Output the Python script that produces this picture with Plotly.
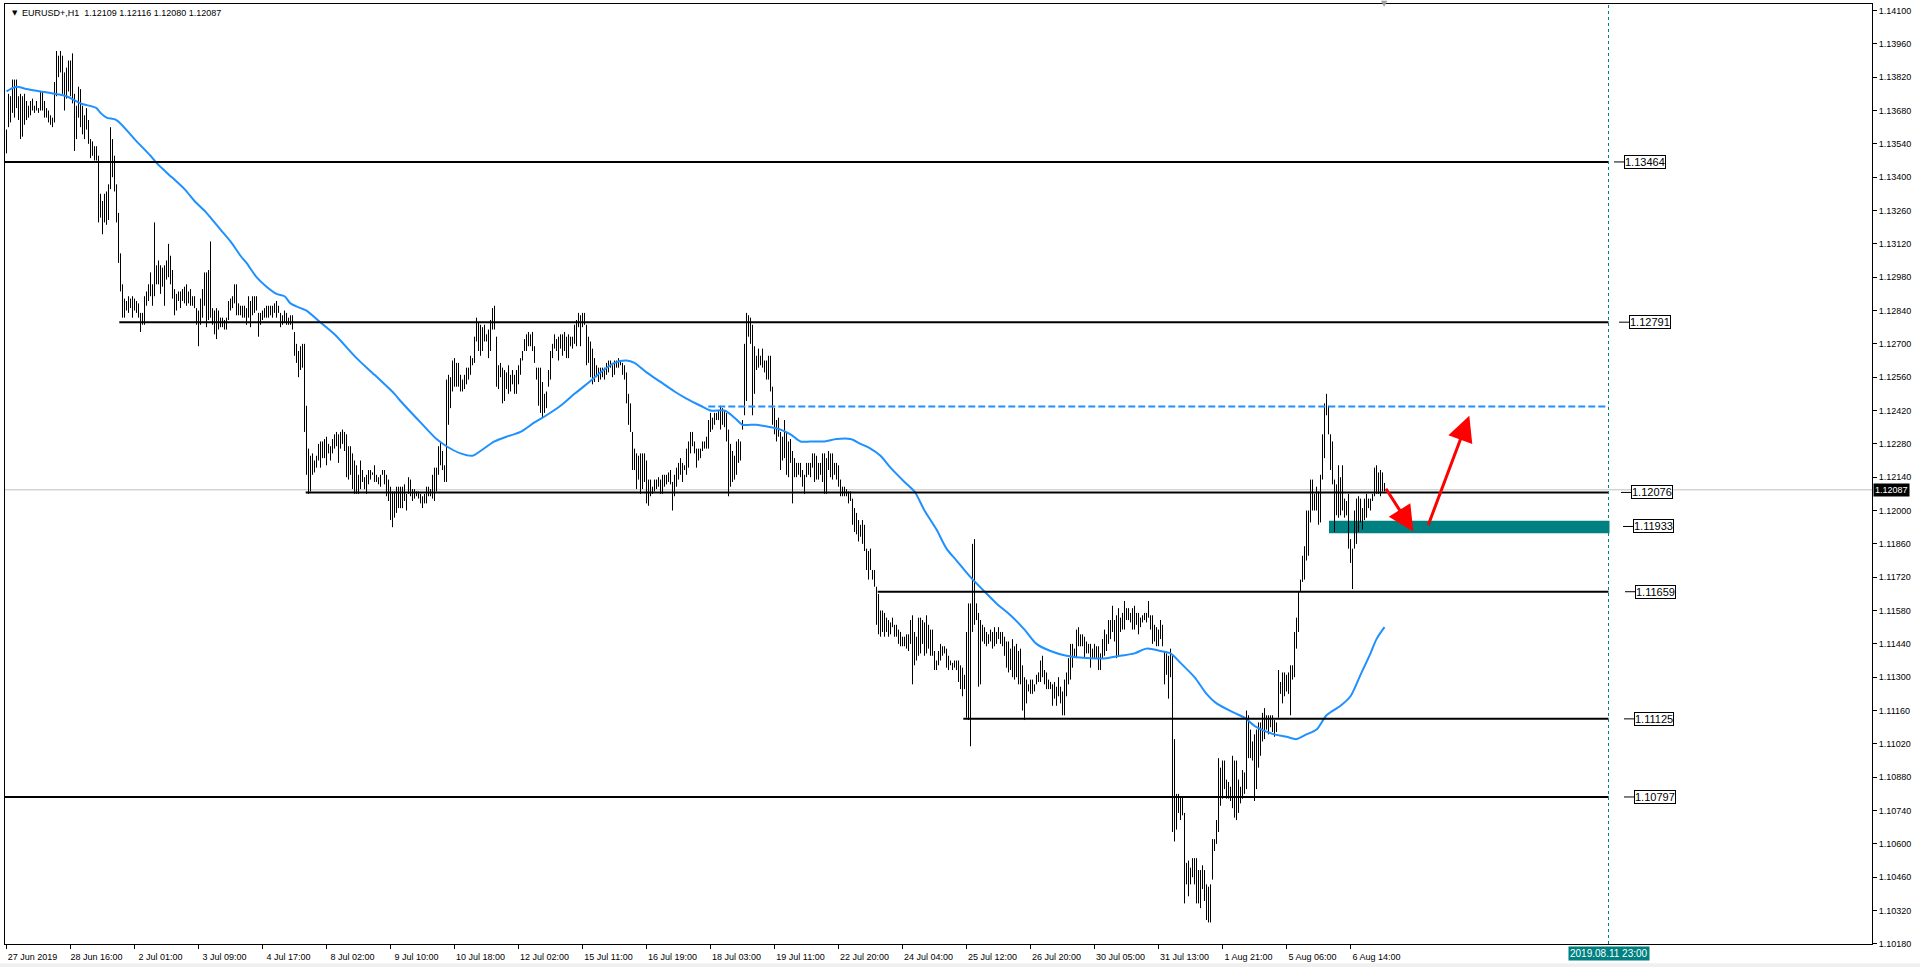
import plotly.graph_objects as go

# ------------------------------------------------------------------ data
# EURUSD+ H1 bars (high / low), bar index 0 = 27 Jun 2019 08:00
bar_high = [
    1.1360, 1.1375, 1.1374, 1.1381, 1.1381, 1.1381, 1.1374, 1.1375, 1.1374, 1.1375,
    1.1372, 1.1370, 1.1372, 1.1373, 1.1370, 1.1372, 1.1369, 1.1376, 1.1376, 1.1372,
    1.1369, 1.1368, 1.1366, 1.1365, 1.1380, 1.1393, 1.1391, 1.1393, 1.1391, 1.1384,
    1.1386, 1.1389, 1.1389, 1.1392, 1.1375, 1.1370, 1.1378, 1.1377, 1.1370, 1.1366,
    1.1369, 1.1364, 1.1356, 1.1355, 1.1353, 1.1353, 1.1349, 1.1333, 1.1330, 1.1333,
    1.1334, 1.1337, 1.1361, 1.1356, 1.1349, 1.1337, 1.1325, 1.1308, 1.1295, 1.1289,
    1.1288, 1.1290, 1.1289, 1.1290, 1.1289, 1.1288, 1.1287, 1.1283, 1.1283, 1.1290,
    1.1292, 1.1295, 1.1300, 1.1295, 1.1321, 1.1303, 1.1305, 1.1303, 1.1302, 1.1303,
    1.1305, 1.1312, 1.1307, 1.1301, 1.1293, 1.1291, 1.1292, 1.1292, 1.1293, 1.1294,
    1.1295, 1.1292, 1.1293, 1.1290, 1.1290, 1.1285, 1.1284, 1.1289, 1.1293, 1.1300,
    1.1300, 1.1301, 1.1313, 1.1285, 1.1284, 1.1285, 1.1284, 1.1281, 1.1281, 1.1280,
    1.1281, 1.1288, 1.1289, 1.1290, 1.1295, 1.1295, 1.1287, 1.1286, 1.1286, 1.1286,
    1.1285, 1.1290, 1.1288, 1.1290, 1.1290, 1.1290, 1.1283, 1.1283, 1.1284, 1.1285,
    1.1286, 1.1286, 1.1286, 1.1286, 1.1287, 1.1288, 1.1286, 1.1283, 1.1282, 1.1284,
    1.1283, 1.1281, 1.1282, 1.1282, 1.1275, 1.1270, 1.1267, 1.1269, 1.1270, 1.1270,
    1.1244, 1.1226, 1.1223, 1.1224, 1.1221, 1.1223, 1.1228, 1.1229, 1.1229, 1.1230,
    1.1231, 1.1228, 1.1227, 1.1230, 1.1232, 1.1233, 1.1232, 1.1233, 1.1234, 1.1233,
    1.1232, 1.1227, 1.1227, 1.1224, 1.1221, 1.1219, 1.1215, 1.1221, 1.1217, 1.1214,
    1.1215, 1.1217, 1.1217, 1.1216, 1.1219, 1.1215, 1.1214, 1.1215, 1.1217, 1.1217,
    1.1215, 1.1213, 1.1210, 1.1208, 1.1208, 1.1210, 1.1210, 1.1210, 1.1210, 1.1211,
    1.1207, 1.1214, 1.1213, 1.1209, 1.1209, 1.1208, 1.1208, 1.1207, 1.1206, 1.1207,
    1.1210, 1.1210, 1.1209, 1.1215, 1.1218, 1.1218, 1.1227, 1.1229, 1.1225, 1.1219,
    1.1255, 1.1257, 1.1256, 1.1263, 1.1264, 1.1262, 1.1262, 1.1257, 1.1255, 1.1257,
    1.1260, 1.1260, 1.1265, 1.1264, 1.1273, 1.1281, 1.1279, 1.1278, 1.1277, 1.1278,
    1.1274, 1.1276, 1.1280, 1.1285, 1.1286, 1.1273, 1.1261, 1.1262, 1.1260, 1.1259,
    1.1258, 1.1261, 1.1257, 1.1259, 1.1257, 1.1259, 1.1261, 1.1264, 1.1267, 1.1272,
    1.1274, 1.1275, 1.1274, 1.1275, 1.1269, 1.1260, 1.1260, 1.1260, 1.1254, 1.1249,
    1.1250, 1.1259, 1.1267, 1.1270, 1.1274, 1.1272, 1.1273, 1.1274, 1.1274, 1.1275,
    1.1273, 1.1274, 1.1273, 1.1273, 1.1278, 1.1280, 1.1283, 1.1282, 1.1283, 1.1283,
    1.1278, 1.1273, 1.1271, 1.1268, 1.1264, 1.1261, 1.1260, 1.1260, 1.1260, 1.1260,
    1.1262, 1.1263, 1.1263, 1.1261, 1.1263, 1.1263, 1.1264, 1.1263, 1.1262, 1.1261,
    1.1258, 1.1249, 1.1245, 1.1233, 1.1226, 1.1224, 1.1223, 1.1224, 1.1224, 1.1224,
    1.1221, 1.1213, 1.1213, 1.1210, 1.1213, 1.1213, 1.1214, 1.1213, 1.1215, 1.1215,
    1.1215, 1.1216, 1.1217, 1.1212, 1.1215, 1.1218, 1.1220, 1.1222, 1.1220, 1.1219,
    1.1226, 1.1229, 1.1233, 1.1233, 1.1229, 1.1226, 1.1226, 1.1226, 1.1229, 1.1229,
    1.1231, 1.1238, 1.1241, 1.1239, 1.1241, 1.1241, 1.1242, 1.1244, 1.1243, 1.1242,
    1.1241, 1.1234, 1.1228, 1.1225, 1.1223, 1.1229, 1.1230, 1.1229, 1.1238, 1.1270,
    1.1283, 1.1282, 1.1281, 1.1278, 1.1269, 1.1265, 1.1268, 1.1265, 1.1268, 1.1263,
    1.1263, 1.1265, 1.1265, 1.1252, 1.1243, 1.1238, 1.1239, 1.1233, 1.1231, 1.1238,
    1.1233, 1.1229, 1.1230, 1.1225, 1.1222, 1.1220, 1.1220, 1.1220, 1.1217, 1.1215,
    1.1220, 1.1220, 1.1220, 1.1224, 1.1224, 1.1223, 1.1220, 1.1220, 1.1224, 1.1224,
    1.1222, 1.1225, 1.1224, 1.1224, 1.1220, 1.1220, 1.1219, 1.1213, 1.1210, 1.1210,
    1.1209, 1.1208, 1.1208, 1.1205, 1.1201, 1.1199, 1.1196, 1.1194, 1.1196, 1.1194,
    1.1184, 1.1183, 1.1184, 1.1175, 1.1175, 1.1168, 1.1165, 1.1158, 1.1158, 1.1157,
    1.1155, 1.1154, 1.1153, 1.1155, 1.1152, 1.1152, 1.1150, 1.1149, 1.1147, 1.1147,
    1.1148, 1.1148, 1.1154, 1.1156, 1.1149, 1.1147, 1.1155, 1.1155, 1.1154, 1.1153,
    1.1156, 1.1152, 1.1150, 1.1150, 1.1141, 1.1137, 1.1141, 1.1144, 1.1143, 1.1143,
    1.1142, 1.1139, 1.1137, 1.1136, 1.1137, 1.1137, 1.1137, 1.1135, 1.1134, 1.1131,
    1.1149, 1.1161, 1.1161, 1.1186, 1.1188, 1.1161, 1.1157, 1.1154, 1.1152, 1.1151,
    1.1149, 1.1148, 1.1150, 1.1149, 1.1151, 1.1149, 1.1151, 1.1149, 1.1149, 1.1147,
    1.1145, 1.1145, 1.1142, 1.1146, 1.1143, 1.1144, 1.1141, 1.1142, 1.1135, 1.1130,
    1.1129, 1.1127, 1.1129, 1.1129, 1.1127, 1.1131, 1.1132, 1.1137, 1.1139, 1.1133,
    1.1132, 1.1129, 1.1128, 1.1127, 1.1128, 1.1126, 1.1130, 1.1126, 1.1124, 1.1129,
    1.1132, 1.1138, 1.1144, 1.1144, 1.1142, 1.1150, 1.1151, 1.1148, 1.1148, 1.1147,
    1.1145, 1.1144, 1.1144, 1.1142, 1.1144, 1.1143, 1.1143, 1.1140, 1.1146, 1.1150,
    1.1148, 1.1154, 1.1154, 1.1160, 1.1154, 1.1156, 1.1159, 1.1155, 1.1157, 1.1162,
    1.1159, 1.1159, 1.1157, 1.1159, 1.1160, 1.1157, 1.1157, 1.1155, 1.1156, 1.1157,
    1.1157, 1.1162, 1.1156, 1.1156, 1.1152, 1.1151, 1.1150, 1.1154, 1.1152, 1.1141,
    1.1140, 1.1139, 1.1142, 1.1139, 1.1104, 1.1081, 1.1081, 1.1080, 1.1080, 1.1073,
    1.1052, 1.1053, 1.1050, 1.1054, 1.1054, 1.1054, 1.1049, 1.1049, 1.1051, 1.1049,
    1.1043, 1.1042, 1.1043, 1.1062, 1.1062, 1.1070, 1.1096, 1.1092, 1.1095, 1.1095,
    1.1087, 1.1086, 1.1084, 1.1097, 1.1095, 1.1095, 1.1087, 1.1084, 1.1091, 1.1090,
    1.1116, 1.1114, 1.1108, 1.1103, 1.1106, 1.1108, 1.1111, 1.1111, 1.1115, 1.1117,
    1.1114, 1.1114, 1.1114, 1.1114, 1.1112, 1.1111, 1.1133, 1.1128, 1.1132, 1.1132,
    1.1131, 1.1132, 1.1135, 1.1135, 1.1149, 1.1155, 1.1166, 1.1171, 1.1181, 1.1185,
    1.1200, 1.1200, 1.1213, 1.1213, 1.1207, 1.1210, 1.1208, 1.1215, 1.1232, 1.1245,
    1.1249, 1.1244, 1.1232, 1.1229, 1.1213, 1.1211, 1.1219, 1.1214, 1.1219, 1.1205,
    1.1204, 1.1207, 1.1188, 1.1184, 1.1200, 1.1205, 1.1206, 1.1205, 1.1201, 1.1205,
    1.1207, 1.1205, 1.1205, 1.1207, 1.1218, 1.1219, 1.1216, 1.1217, 1.1216, 1.12116,
]
bar_low = [
    1.1350, 1.1361, 1.1363, 1.1367, 1.1365, 1.1369, 1.1364, 1.1356, 1.1357, 1.1362,
    1.1364, 1.1365, 1.1366, 1.1368, 1.1367, 1.1368, 1.1367, 1.1368, 1.1368, 1.1365,
    1.1365, 1.1363, 1.1362, 1.1361, 1.1363, 1.1374, 1.1382, 1.1384, 1.1375, 1.1368,
    1.1373, 1.1376, 1.1374, 1.1371, 1.1351, 1.1356, 1.1365, 1.1361, 1.1358, 1.1356,
    1.1360, 1.1354, 1.1348, 1.1349, 1.1347, 1.1347, 1.1321, 1.1323, 1.1316, 1.1321,
    1.1320, 1.1322, 1.1335, 1.1340, 1.1334, 1.1321, 1.1304, 1.1292, 1.1281, 1.1281,
    1.1284, 1.1283, 1.1285, 1.1281, 1.1284, 1.1283, 1.1281, 1.1275, 1.1278, 1.1278,
    1.1286, 1.1288, 1.1290, 1.1286, 1.1290, 1.1295, 1.1295, 1.1291, 1.1294, 1.1286,
    1.1297, 1.1298, 1.1295, 1.1289, 1.1282, 1.1284, 1.1288, 1.1285, 1.1288, 1.1287,
    1.1286, 1.1287, 1.1286, 1.1286, 1.1285, 1.1278, 1.1269, 1.1278, 1.1281, 1.1286,
    1.1277, 1.1280, 1.1281, 1.1278, 1.1274, 1.1272, 1.1276, 1.1277, 1.1277, 1.1276,
    1.1276, 1.1280, 1.1284, 1.1285, 1.1287, 1.1282, 1.1282, 1.1282, 1.1281, 1.1281,
    1.1278, 1.1281, 1.1277, 1.1282, 1.1283, 1.1284, 1.1273, 1.1278, 1.1280, 1.1281,
    1.1281, 1.1281, 1.1282, 1.1281, 1.1283, 1.1281, 1.1283, 1.1277, 1.1278, 1.1279,
    1.1278, 1.1278, 1.1278, 1.1276, 1.1265, 1.1262, 1.1256, 1.1259, 1.1260, 1.1233,
    1.1215, 1.1207, 1.1208, 1.1215, 1.1216, 1.1218, 1.1221, 1.1218, 1.1222, 1.1222,
    1.1219, 1.1224, 1.1221, 1.1224, 1.1226, 1.1227, 1.1220, 1.1226, 1.1228, 1.1225,
    1.1214, 1.1213, 1.1215, 1.1209, 1.1207, 1.1207, 1.1207, 1.1209, 1.1212, 1.1209,
    1.1207, 1.1211, 1.1213, 1.1215, 1.1212, 1.1212, 1.1211, 1.1210, 1.1215, 1.1211,
    1.1206, 1.1204, 1.1196, 1.1193, 1.1197, 1.1199, 1.1201, 1.1201, 1.1201, 1.1204,
    1.1200, 1.1207, 1.1206, 1.1204, 1.1205, 1.1206, 1.1205, 1.1203, 1.1201, 1.1203,
    1.1203, 1.1206, 1.1206, 1.1205, 1.1204, 1.1208, 1.1215, 1.1219, 1.1217, 1.1212,
    1.1212, 1.1236, 1.1243, 1.1250, 1.1252, 1.1252, 1.1252, 1.1250, 1.1250, 1.1251,
    1.1253, 1.1255, 1.1257, 1.1261, 1.1262, 1.1271, 1.1267, 1.1265, 1.1267, 1.1271,
    1.1271, 1.1264, 1.1267, 1.1276, 1.1276, 1.1252, 1.1251, 1.1256, 1.1245, 1.1246,
    1.1251, 1.1249, 1.1250, 1.1253, 1.1249, 1.1249, 1.1253, 1.1257, 1.1263, 1.1267,
    1.1267, 1.1269, 1.1269, 1.1267, 1.1262, 1.1255, 1.1244, 1.1241, 1.1239, 1.1241,
    1.1243, 1.1252, 1.1255, 1.1264, 1.1268, 1.1267, 1.1263, 1.1268, 1.1265, 1.1267,
    1.1264, 1.1264, 1.1269, 1.1268, 1.1270, 1.1269, 1.1277, 1.1269, 1.1277, 1.1278,
    1.1261, 1.1262, 1.1256, 1.1253, 1.1254, 1.1256, 1.1254, 1.1255, 1.1256, 1.1255,
    1.1257, 1.1258, 1.1260, 1.1256, 1.1257, 1.1260, 1.1260, 1.1261, 1.1257, 1.1255,
    1.1245, 1.1236, 1.1233, 1.1217, 1.1217, 1.1209, 1.1213, 1.1207, 1.1209, 1.1212,
    1.1203, 1.1202, 1.1206, 1.1207, 1.1208, 1.1209, 1.1210, 1.1207, 1.1207, 1.1210,
    1.1211, 1.1212, 1.1211, 1.1200, 1.1206, 1.1210, 1.1213, 1.1215, 1.1212, 1.1217,
    1.1215, 1.1218, 1.1224, 1.1227, 1.1224, 1.1218, 1.1221, 1.1222, 1.1225, 1.1226,
    1.1226, 1.1226, 1.1233, 1.1234, 1.1236, 1.1238, 1.1238, 1.1234, 1.1236, 1.1235,
    1.1229, 1.1206, 1.1210, 1.1212, 1.1213, 1.1215, 1.1220, 1.1221, 1.1234, 1.1240,
    1.1246, 1.1273, 1.1270, 1.1240, 1.1249, 1.1259, 1.1260, 1.1261, 1.1260, 1.1258,
    1.1255, 1.1255, 1.1250, 1.1236, 1.1232, 1.1229, 1.1231, 1.1217, 1.1221, 1.1222,
    1.1215, 1.1214, 1.1220, 1.1203, 1.1214, 1.1214, 1.1215, 1.1214, 1.1210, 1.1207,
    1.1214, 1.1215, 1.1214, 1.1218, 1.1212, 1.1213, 1.1213, 1.1215, 1.1212, 1.1207,
    1.1207, 1.1217, 1.1214, 1.1213, 1.1215, 1.1213, 1.1210, 1.1206, 1.1206, 1.1206,
    1.1206, 1.1203, 1.1204, 1.1194, 1.1191, 1.1190, 1.1187, 1.1189, 1.1186, 1.1183,
    1.1175, 1.1171, 1.1175, 1.1171, 1.1168, 1.1152, 1.1148, 1.1147, 1.1149, 1.1147,
    1.1149, 1.1147, 1.1148, 1.1151, 1.1147, 1.1147, 1.1144, 1.1143, 1.1143, 1.1143,
    1.1142, 1.1141, 1.1144, 1.1127, 1.1135, 1.1137, 1.1139, 1.1140, 1.1144, 1.1139,
    1.1140, 1.1142, 1.1139, 1.1139, 1.1133, 1.1133, 1.1135, 1.1137, 1.1139, 1.1140,
    1.1134, 1.1133, 1.1135, 1.1133, 1.1134, 1.1133, 1.1128, 1.1125, 1.1122, 1.1125,
    1.1113, 1.1112, 1.1101, 1.1149, 1.1152, 1.1154, 1.1126, 1.1127, 1.1145, 1.1144,
    1.1143, 1.1144, 1.1145, 1.1142, 1.1143, 1.1144, 1.1146, 1.1144, 1.1143, 1.1139,
    1.1134, 1.1132, 1.1133, 1.1130, 1.1129, 1.1130, 1.1127, 1.1127, 1.1116, 1.1112,
    1.1119, 1.1124, 1.1123, 1.1123, 1.1124, 1.1127, 1.1128, 1.1128, 1.1130, 1.1127,
    1.1125, 1.1125, 1.1125, 1.1118, 1.1121, 1.1118, 1.1122, 1.1119, 1.1114, 1.1114,
    1.1122, 1.1127, 1.1129, 1.1134, 1.1138, 1.1138, 1.1143, 1.1143, 1.1143, 1.1138,
    1.1140, 1.1140, 1.1134, 1.1138, 1.1138, 1.1138, 1.1133, 1.1133, 1.1138, 1.1139,
    1.1141, 1.1144, 1.1146, 1.1149, 1.1145, 1.1138, 1.1139, 1.1149, 1.1150, 1.1150,
    1.1154, 1.1154, 1.1153, 1.1150, 1.1150, 1.1152, 1.1148, 1.1151, 1.1153, 1.1154,
    1.1153, 1.1155, 1.1150, 1.1144, 1.1145, 1.1143, 1.1143, 1.1146, 1.1143, 1.1127,
    1.1131, 1.1121, 1.1130, 1.1065, 1.1061, 1.1066, 1.1073, 1.1070, 1.1072, 1.1035,
    1.1043, 1.1038, 1.1043, 1.1046, 1.1043, 1.1035, 1.1035, 1.1033, 1.1041, 1.1036,
    1.1028, 1.1027, 1.1027, 1.1045, 1.1057, 1.1060, 1.1065, 1.1076, 1.1079, 1.1083,
    1.1079, 1.1079, 1.1078, 1.1075, 1.1071, 1.1070, 1.1073, 1.1077, 1.1079, 1.1081,
    1.1083, 1.1096, 1.1096, 1.1095, 1.1078, 1.1083, 1.1092, 1.1097, 1.1103, 1.1104,
    1.1108, 1.1106, 1.1109, 1.1107, 1.1105, 1.1107, 1.1113, 1.1123, 1.1119, 1.1122,
    1.1124, 1.1123, 1.1114, 1.1129, 1.1130, 1.1142, 1.1149, 1.1166, 1.1170, 1.1171,
    1.1179, 1.1181, 1.1195, 1.1200, 1.1200, 1.1200, 1.1194, 1.1195, 1.1213, 1.1222,
    1.1240, 1.1232, 1.1217, 1.1211, 1.1191, 1.1198, 1.1197, 1.1198, 1.1200, 1.1197,
    1.1198, 1.1184, 1.1178, 1.1167, 1.1184, 1.1186, 1.1191, 1.1195, 1.1192, 1.1196,
    1.1197, 1.1201, 1.1200, 1.1204, 1.1206, 1.1207, 1.1207, 1.1206, 1.1208, 1.12080,
]

# time-axis labels (every 32 bars)
time_labels = ["27 Jun 2019", "28 Jun 16:00", "2 Jul 01:00", "3 Jul 09:00", "4 Jul 17:00",
               "8 Jul 02:00", "9 Jul 10:00", "10 Jul 18:00", "12 Jul 02:00", "15 Jul 11:00",
               "16 Jul 19:00", "18 Jul 03:00", "19 Jul 11:00", "22 Jul 20:00", "24 Jul 04:00",
               "25 Jul 12:00", "26 Jul 20:00", "30 Jul 05:00", "31 Jul 13:00", "1 Aug 21:00",
               "5 Aug 06:00", "6 Aug 14:00"]
time_label_bars = [0, 32, 64, 96, 128, 160, 192, 224, 256, 288, 320, 352, 384, 416, 448,
                   480, 512, 544, 576, 608, 640, 672]

price_ticks = [1.14100, 1.13960, 1.13820, 1.13680, 1.13540, 1.13400, 1.13260, 1.13120,
               1.12980, 1.12840, 1.12700, 1.12560, 1.12420, 1.12280, 1.12140, 1.12000,
               1.11860, 1.11720, 1.11580, 1.11440, 1.11300, 1.11160, 1.11020, 1.10880,
               1.10740, 1.10600, 1.10460, 1.10320, 1.10180]

# moving average
ma_bars = [0, 2, 5, 10, 17, 24, 30, 37, 45, 47, 50, 55, 64, 72, 75, 80, 89, 94, 100, 104,
           107, 112, 117, 120, 125, 130, 135, 139, 142, 147, 150, 157, 164, 175, 184, 194, 197, 207, 215, 220,
           227, 233, 237, 244, 250, 257, 264, 270, 277, 284, 290, 297, 304, 310, 314, 320, 327, 334, 340, 347,
           352, 359, 364, 368, 372, 375, 382, 387, 392, 397, 402, 409, 415, 422, 427, 432, 437, 442, 449, 454,
           459, 465, 470, 475, 482, 489, 495, 502, 509, 515, 522, 530, 542, 550, 557, 564, 570, 577, 582, 587,
           594, 600, 605, 614, 619, 625, 634, 640, 645, 650, 655, 660, 667, 672, 677, 682, 685, 689]
ma_values = [1.1376, 1.1377, 1.1378, 1.1377, 1.1376, 1.1375, 1.1374, 1.1371, 1.1369, 1.1367,
             1.1365, 1.1364, 1.1356, 1.1349, 1.1346, 1.1342, 1.1335, 1.1330, 1.1325, 1.1321,
             1.1318, 1.1313, 1.1307, 1.1304, 1.1298, 1.1294, 1.1291, 1.1290, 1.1287, 1.1285,
             1.1284, 1.1279, 1.1274, 1.1264, 1.1257, 1.1249, 1.1246, 1.1237, 1.1230, 1.1227,
             1.1224, 1.1223, 1.1225, 1.1229, 1.1231, 1.1233, 1.1237, 1.1240, 1.1244, 1.1249,
             1.1253, 1.1258, 1.1262, 1.1263, 1.1262, 1.1258, 1.1254, 1.1250, 1.1247, 1.1244,
             1.1242, 1.1242, 1.1239, 1.1236, 1.1236, 1.1236, 1.1235, 1.1234, 1.1232, 1.1229,
             1.1229, 1.1229, 1.1230, 1.1230, 1.1228, 1.1226, 1.1223, 1.1218, 1.1212, 1.1208,
             1.1200, 1.1192, 1.1184, 1.1179, 1.1172, 1.1166, 1.1161, 1.1156, 1.1150, 1.1144,
             1.1141, 1.1139, 1.1138, 1.1138, 1.1139, 1.1140, 1.1142, 1.1141, 1.1140, 1.1136,
             1.1130, 1.1123, 1.1119, 1.1115, 1.1113, 1.1109, 1.1106, 1.1105, 1.1104, 1.1106,
             1.1108, 1.1114, 1.1118, 1.1122, 1.1131, 1.1140, 1.1146, 1.1151]

symbol = "EURUSD+,H1"
last_open, last_high, last_low, last_close = 1.12109, 1.12116, 1.12080, 1.12087

level_prices = [1.13464, 1.12791, 1.12076, 1.11659, 1.11125, 1.10797]
level_start_bars = [-0.75, 56.4, 149.6, 435.6, 478.4, -0.75]
dashed_level = 1.12437
dashed_start_bar = 350.9
zone_low, zone_high, zone_label_price = 1.11905, 1.11957, 1.11933
zone_start_bar = 661.25
future_bar = 801
future_label = "2019.08.11 23:00"
arrow_tail_bars = [689.25, 710.6]
arrow_tail_prices = [1.12098, 1.11933]
arrow_head_bars = [703.4, 731.4]
arrow_head_prices = [1.11912, 1.12398]

assert len(bar_high) == len(bar_low) == 690
assert len(ma_bars) == len(ma_values)

# ------------------------------------------------------------------ layout helpers
X_RANGE = [-0.75, 932.75]
Y_RANGE = [1.101795, 1.141273]
FONT = "Liberation Sans"
# label-box left positions (bar units) for each level label, in chart order
label_box_bars = [808.75, 811.25, 812.25, 814.25, 813.75, 813.75]
zone_label_box_bar = 813.25

fig = go.Figure()

# bars as vertical high-low strokes
bx, by = [], []
for i, (h, l) in enumerate(zip(bar_high, bar_low)):
    bx += [i, i, None]
    by += [l, h, None]
fig.add_trace(go.Scatter(x=bx, y=by, mode="lines",
                         line=dict(color="#000000", width=1),
                         hoverinfo="skip", showlegend=False))

# moving average
fig.add_trace(go.Scatter(x=ma_bars, y=ma_values, mode="lines",
                         line=dict(color="#1E90FF", width=2, shape="spline", smoothing=0.8),
                         hoverinfo="skip", showlegend=False))

shapes = []
# current price (bid) line
shapes.append(dict(type="line", xref="x", yref="y", x0=X_RANGE[0], x1=X_RANGE[1],
                   y0=last_close, y1=last_close, line=dict(color="#C0C0C0", width=1),
                   layer="below"))
# support zone
shapes.append(dict(type="rect", xref="x", yref="y", x0=zone_start_bar, x1=future_bar + 0.5,
                   y0=zone_low, y1=zone_high, fillcolor="#008080",
                   line=dict(width=0), layer="below"))
# horizontal levels
for p, s in zip(level_prices, level_start_bars):
    shapes.append(dict(type="line", xref="x", yref="y", x0=s, x1=future_bar, y0=p, y1=p,
                       line=dict(color="#000000", width=2)))
# dashed resistance
shapes.append(dict(type="line", xref="x", yref="y", x0=dashed_start_bar, x1=future_bar,
                   y0=dashed_level, y1=dashed_level,
                   line=dict(color="#1E90FF", width=2, dash="7px,3px")))
# future vertical line
shapes.append(dict(type="line", xref="x", yref="paper", x0=future_bar, x1=future_bar,
                   y0=0, y1=1, line=dict(color="#008080", width=1, dash="3px,3px")))
# little dashes before the price labels
for p, bxl in zip(level_prices, label_box_bars):
    shapes.append(dict(type="line", xref="x", yref="y", x0=bxl - 5, x1=bxl, y0=p, y1=p,
                       line=dict(color="#000000", width=1)))
shapes.append(dict(type="line", xref="x", yref="y", x0=zone_label_box_bar - 5,
                   x1=zone_label_box_bar, y0=zone_label_price, y1=zone_label_price,
                   line=dict(color="#000000", width=1)))
# light grey window strip at the very bottom
shapes.append(dict(type="rect", xref="paper", yref="paper", x0=-0.01, x1=1.05,
                   y0=-0.0255, y1=-0.0205, fillcolor="#F0F0F0", line=dict(width=0)))

annotations = []
for p, bxl in zip(level_prices, label_box_bars):
    annotations.append(dict(x=bxl, y=p, xref="x", yref="y", text=f"{p:.5f}",
                            showarrow=False, xanchor="left", yanchor="middle",
                            font=dict(family=FONT, size=11, color="#000000"),
                            bgcolor="#FFFFFF", bordercolor="#000000", borderwidth=1,
                            borderpad=0))
annotations.append(dict(x=zone_label_box_bar, y=zone_label_price, xref="x", yref="y",
                        text=f"{zone_label_price:.5f}", showarrow=False,
                        xanchor="left", yanchor="middle",
                        font=dict(family=FONT, size=11, color="#000000"),
                        bgcolor="#FFFFFF", bordercolor="#000000", borderwidth=1, borderpad=0))
# red arrows
for tx, ty, hx, hy in zip(arrow_tail_bars, arrow_tail_prices, arrow_head_bars, arrow_head_prices):
    annotations.append(dict(x=hx, y=hy, ax=tx, ay=ty, xref="x", yref="y", axref="x", ayref="y",
                            text="", showarrow=True, arrowhead=2, arrowsize=1.7,
                            arrowwidth=3, arrowcolor="#FF0000", standoff=0, startstandoff=0))
# current price tag on the price scale
annotations.append(dict(x=1, y=last_close, xref="paper", yref="y", text=f"{last_close:.5f}",
                        showarrow=False, xanchor="left", yanchor="middle", xshift=1,
                        font=dict(family=FONT, size=9, color="#FFFFFF"),
                        bgcolor="#000000", borderpad=1))
# future time tag on the time scale
annotations.append(dict(x=future_bar, y=0, xref="x", yref="paper", text=future_label,
                        showarrow=False, xanchor="center", yanchor="top", yshift=-2,
                        font=dict(family=FONT, size=10, color="#FFFFFF"),
                        bgcolor="#008080", borderpad=1))
# chart caption
annotations.append(dict(x=0.0025, y=0.9908, xref="paper", yref="paper", text="\u25BC",
                        showarrow=False, xanchor="left", yanchor="middle",
                        font=dict(family="DejaVu Sans", size=7, color="#000000")))
caption = (f"{symbol}\u00a0 {last_open:.5f} {last_high:.5f} {last_low:.5f} {last_close:.5f}")
annotations.append(dict(x=0.0082, y=0.9908, xref="paper", yref="paper", text=caption,
                        showarrow=False, xanchor="left", yanchor="middle",
                        font=dict(family=FONT, size=9, color="#000000")))
# chart-shift marker at the top
annotations.append(dict(x=688.75, y=1, xref="x", yref="paper", text="\u25BC",
                        showarrow=False, xanchor="center", yanchor="middle", yshift=1,
                        font=dict(family="DejaVu Sans", size=8, color="#A0A0A0")))

fig.update_layout(
    width=1920, height=967,
    margin=dict(l=5, r=48, t=4, b=23, autoexpand=False),
    paper_bgcolor="#FFFFFF", plot_bgcolor="#FFFFFF",
    font=dict(family=FONT, size=9, color="#000000"),
    showlegend=False,
    shapes=shapes, annotations=annotations,
    xaxis=dict(range=X_RANGE, showgrid=False, zeroline=False,
               tickmode="array", tickvals=time_label_bars, ticktext=time_labels,
               ticks="outside", ticklen=4, tickcolor="#000000", tickangle=0,
               ticklabelshift=26,
               showline=True, linecolor="#000000", linewidth=1, mirror=True,
               tickfont=dict(family=FONT, size=9, color="#000000")),
    yaxis=dict(range=Y_RANGE, side="right", showgrid=False, zeroline=False,
               tickmode="array", tickvals=price_ticks, tickformat=".5f",
               ticks="outside", ticklen=4, tickcolor="#000000",
               showline=True, linecolor="#000000", linewidth=1, mirror=True,
               tickfont=dict(family=FONT, size=9, color="#000000")),
)

fig.write_html("out.html", config={"displayModeBar": False},
               post_script="document.body.style.margin='0';document.body.style.overflow='hidden';")
